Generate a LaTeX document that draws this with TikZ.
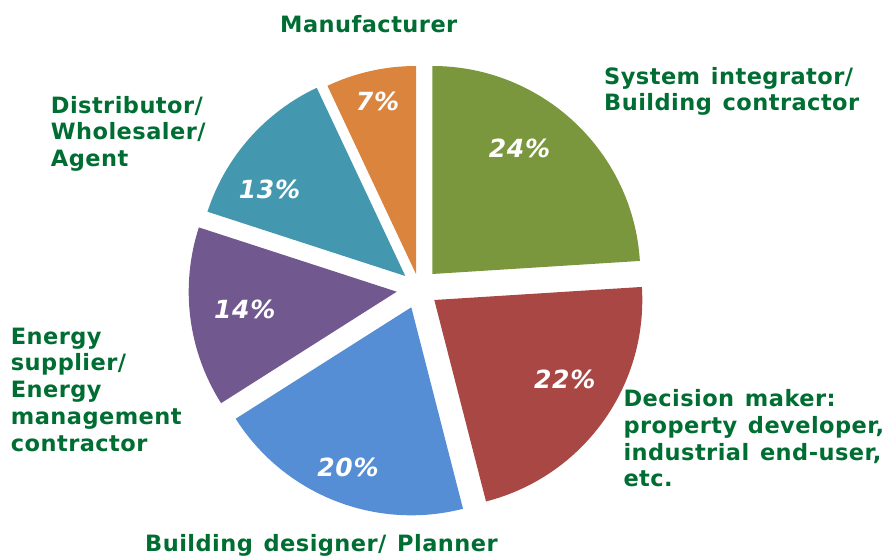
\documentclass[tikz,border=0pt]{standalone}
\usepackage{fontspec}
\setmainfont{DejaVu Sans}
\newfontfamily\lblfont[LetterSpace=2,WordSpace=1.3]{DejaVu Sans}
\newfontfamily\pctfont[LetterSpace=3]{DejaVu Sans}
\definecolor{cgreen}{RGB}{122,151,61}
\definecolor{cred}{RGB}{169,71,68}
\definecolor{cblue}{RGB}{85,142,213}
\definecolor{cpurple}{RGB}{113,88,143}
\definecolor{cteal}{RGB}{67,152,175}
\definecolor{corange}{RGB}{218,132,62}
\definecolor{ctext}{RGB}{0,110,50}
\newcommand{\lbl}[1]{\begin{tabular}[t]{@{}l@{}}#1\end{tabular}}
\begin{document}
\begin{tikzpicture}[x=1pt,y=1pt,
  cat/.style={text=ctext,inner sep=0pt,anchor=base west,font=\fontsize{22.5}{26.7}\selectfont\lblfont\bfseries},
  pct/.style={text=white,inner sep=0pt,anchor=base,font=\fontsize{25}{30}\selectfont\pctfont\bfseries\itshape}]
\useasboundingbox (0,0) rectangle (891,557);
\def\R{208pt}
% apexes
\coordinate (ag) at (432.3,283);
\coordinate (ar) at (434.3,257);
\coordinate (ab) at (411.3,249.7);
\coordinate (ap) at (396.7,265.3);
\coordinate (at) at (405.3,281);
\coordinate (ao) at (416,283);
% slices
\fill[cgreen] (ag) -- ++(3.6:\R) arc[start angle=3.6,end angle=90,radius=\R] -- cycle;
\fill[cred] (ar) -- ++(-75.6:\R) arc[start angle=-75.6,end angle=3.6,radius=\R] -- cycle;
\fill[cblue] (ab) -- ++(212.4:\R) arc[start angle=212.4,end angle=284.4,radius=\R] -- cycle;
\fill[cpurple] (ap) -- ++(162:\R) arc[start angle=162,end angle=212.4,radius=\R] -- cycle;
\fill[cteal] (at) -- ++(115.2:\R) arc[start angle=115.2,end angle=162,radius=\R] -- cycle;
\fill[corange] (ao) -- ++(90:\R) arc[start angle=90,end angle=115.2,radius=\R] -- cycle;
% percentages
\node[pct] (p24) at (519.5,399.7) {24\%};
\node[pct] (p22) at (564.7,168.7) {22\%};
\node[pct] (p20) at (348,81) {20\%};
\node[pct] (p14) at (244.7,238) {14\%};
\node[pct] (p13) at (269.5,358.7) {13\%};
\node[pct] (p7) at (377.5,446) {7\%};
% category labels
\node[cat] (lman) at (280,524.7) {Manufacturer};
\node[cat] (ldis) at (50.7,443.7) {\lbl{Distributor/\\Wholesaler/\\Agent}};
\node[cat] (lsys) at (604,472.7) {\lbl{System integrator/\\Building contractor}};
\node[cat] (lene) at (10.7,212.7) {\lbl{Energy\\supplier/\\Energy\\management\\contractor}};
\node[cat] (ldec) at (623.3,150.3) {\lbl{Decision maker:\\property developer,\\industrial end-user,\\etc.}};
\node[cat] (lbui) at (145,5.3) {Building designer/ Planner};
\end{tikzpicture}
\end{document}
